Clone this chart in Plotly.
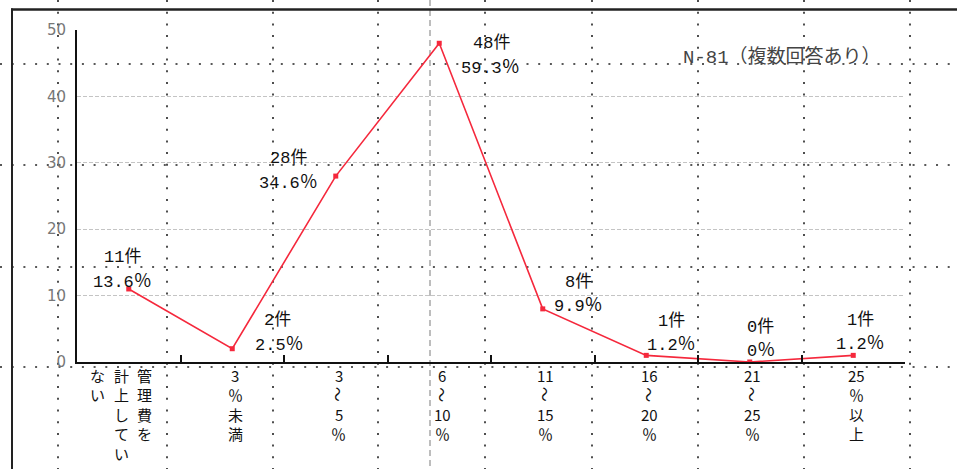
import plotly.graph_objects as go

# ---- data ----
categories = ["管理費を計上していない", "3%未満", "3〜5%", "6〜10%",
              "11〜15%", "16〜20%", "21〜25%", "25%以上"]
counts = [11, 2, 28, 48, 8, 1, 0, 1]
percents = [13.6, 2.5, 34.6, 59.3, 9.9, 1.2, 0, 1.2]
# vertical tick labels: list of columns (left -> right), each a list of rows
tick_label_columns = [
    [["な", "い"], ["計", "上", "し", "て", "い"], ["管", "理", "費", "を"]],
    [["3", "％", "未", "満"]],
    [["3", "〜", "5", "％"]],
    [["6", "〜", "10", "％"]],
    [["11", "〜", "15", "％"]],
    [["16", "〜", "20", "％"]],
    [["21", "〜", "25", "％"]],
    [["25", "％", "以", "上"]],
]
y_ticks = [0, 10, 20, 30, 40, 50]
note_prefix = "N-81"
note_suffix = "（複数回答あり）"

# ---- layout geometry (pixels) ----
W, H = 957, 469
L, R, T, B = 77, 905, 30, 362


def px(x):
    return (x - L) / (R - L)


def py(y):
    return (B - y) / (B - T)


# label offsets (dx, dy) in screen px, +dy is downward
count_offsets = [(-6, -34), (45, -31), (-47, -21), (52, -3),
                 (36, -29), (25, -37), (11, -38), (7, -38)]
pct_offsets = [(-6, -10), (47, -7), (-47, 4), (51, 22),
               (36, -6), (25, -13), (11, -14), (7, -14)]
col_offsets_first = [-31, -7, 16]
row_first_center = 375
row_step = 19.5

JP = "Noto Sans CJK JP"
MONO = "Liberation Mono"
RED = "#f5283c"


def jp(s, size):
    return f"<span style='font-family:{JP};font-size:{size}px'>{s}</span>"


fig = go.Figure()
fig.add_trace(go.Scatter(
    x=categories, y=counts, mode="lines+markers",
    line=dict(color=RED, width=1.6),
    marker=dict(symbol="square", size=5, color=RED),
    hoverinfo="skip", showlegend=False,
))

shapes = []
# spreadsheet-like dotted cell grid
for yy in [64, 165, 267, 367]:
    shapes.append(dict(type="line", xref="paper", yref="paper",
                       x0=px(0), x1=px(W), y0=py(yy), y1=py(yy),
                       line=dict(color="#222", width=1.6, dash="2px,9.7px"),
                       layer="below"))
for xx in [58, 167, 273, 378, 485, 592, 698, 804, 910]:
    shapes.append(dict(type="line", xref="paper", yref="paper",
                       x0=px(xx), x1=px(xx), y0=py(0), y1=py(H),
                       line=dict(color="#222", width=1.6, dash="2px,9.7px"),
                       layer="below"))
# page-break dashed line
shapes.append(dict(type="line", xref="paper", yref="paper",
                   x0=px(430), x1=px(430), y0=py(0), y1=py(H),
                   line=dict(color="#a8a8a8", width=1.5, dash="6px,4px"),
                   layer="below"))
# outer frame
shapes.append(dict(type="line", xref="paper", yref="paper",
                   x0=px(11), x1=px(W), y0=py(9.5), y1=py(9.5),
                   line=dict(color="#222", width=2.5)))
shapes.append(dict(type="line", xref="paper", yref="paper",
                   x0=px(12), x1=px(12), y0=py(8.5), y1=py(H),
                   line=dict(color="#222", width=2)))

annotations = []
for i, cat in enumerate(categories):
    dx, dy = count_offsets[i]
    annotations.append(dict(x=cat, y=counts[i], xref="x", yref="y",
                            text=f"{counts[i]}" + jp("件", 17), showarrow=False,
                            xshift=dx, yshift=-dy, borderpad=0,
                            font=dict(family=MONO, size=17, color="#111")))
    dx, dy = pct_offsets[i]
    annotations.append(dict(x=cat, y=counts[i], xref="x", yref="y",
                            text=f"{percents[i]:g}" + jp("％", 18),
                            showarrow=False, xshift=dx, yshift=-dy,
                            borderpad=0,
                            font=dict(family=MONO, size=17, color="#111")))
    cols = tick_label_columns[i]
    offs = col_offsets_first if len(cols) > 1 else [3]
    for col, off in zip(cols, offs):
        for r, ch in enumerate(col):
            wave = ch == "〜"
            annotations.append(dict(
                x=cat, y=py(row_first_center + r * row_step),
                xref="x", yref="paper", text=ch, showarrow=False,
                xanchor="center", yanchor="middle", xshift=off,
                textangle=90 if wave else 0, borderpad=0,
                font=dict(family=JP, size=15, color="#111")))

annotations.append(dict(x=px(782), y=py(55), xref="paper", yref="paper",
                        text=note_prefix + jp(note_suffix, 19),
                        showarrow=False, xanchor="center", yanchor="middle",
                        font=dict(family=MONO, size=19, color="#444")))

fig.update_layout(
    width=W, height=H, autosize=False,
    margin=dict(l=L, r=W - R, t=T, b=H - B, pad=0),
    paper_bgcolor="white", plot_bgcolor="rgba(0,0,0,0)",
    shapes=shapes, annotations=annotations,
    xaxis=dict(type="category", range=[-0.5, 7.5], tickson="boundaries",
               ticks="inside", ticklen=7, tickwidth=1.5, tickcolor="#111",
               showticklabels=False, showgrid=False, zeroline=False,
               showline=True, linecolor="#111", linewidth=2, fixedrange=True),
    yaxis=dict(range=[0, 50], tickvals=y_ticks, ticks="",
               showgrid=True, gridcolor="#c4c4c4", gridwidth=1,
               griddash="4px,2px", zeroline=False,
               showline=True, linecolor="#111", linewidth=2,
               ticklabelstandoff=6,
               tickfont=dict(family="DejaVu Sans", size=15, color="#777")),
)

fig.write_html("out.html")
